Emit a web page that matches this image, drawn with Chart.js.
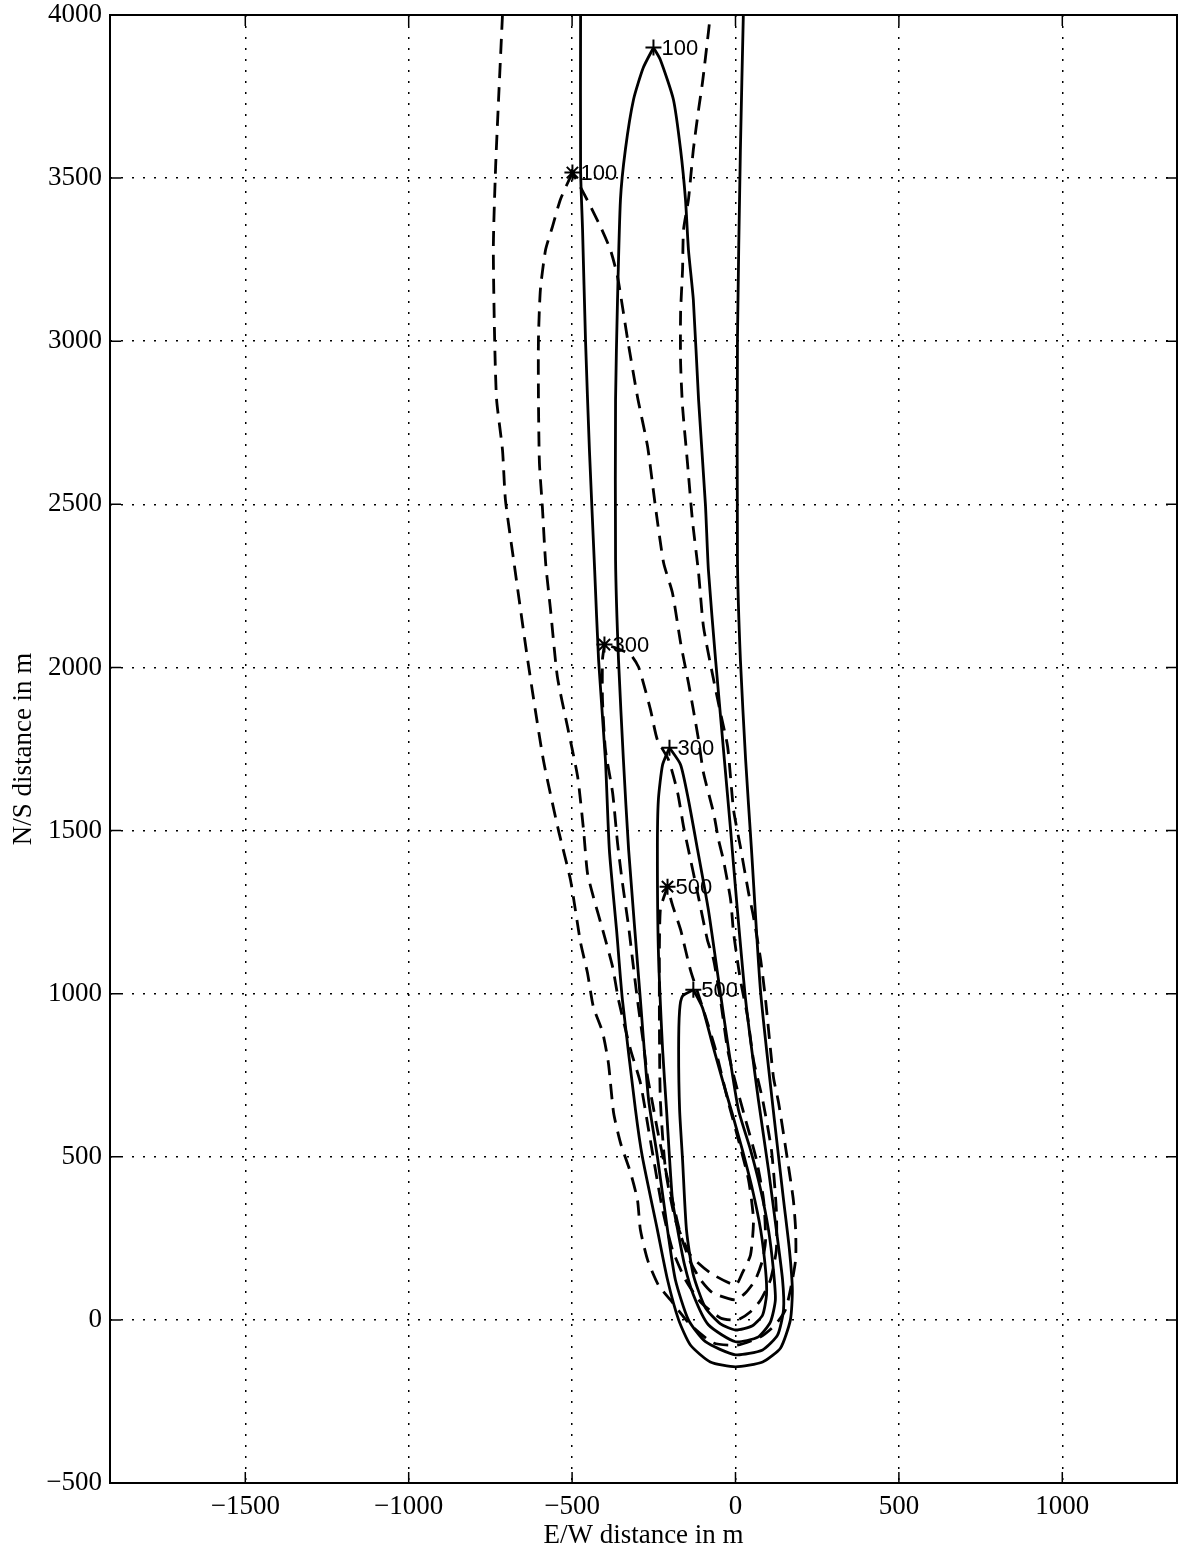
<!DOCTYPE html>
<html>
<head>
<meta charset="utf-8">
<title>Plume concentration contours</title>
<script src="https://cdn.jsdelivr.net/npm/chart.js@4/dist/chart.umd.min.js"></script>
<style>
  body { margin: 0; background: #fff; }
</style>
</head>
<body>
<canvas id="plume" width="1180" height="1553"></canvas>
<script>
// axis ticks, metres
const ewTicks = [-1500, -1000, -500, 0, 500, 1000];
const nsTicks = [-500, 0, 500, 1000, 1500, 2000, 2500, 3000, 3500, 4000];

// contour levels and the point on each contour where the level is marked
const levels = [100, 300, 500];
const solidLabelPts = [[-251, 3900], [-202, 1754], [-129, 1012]];
const dashedLabelPts = [[-499, 3517], [-401, 2070], [-208, 1328]];

// solid contours, [E/W, N/S] in m
const solidOuter = [
  [-474, 4000], [-474, 3526], [-468, 3342], [-459, 3005], [-447, 2667], [-431, 2300],
  [-419, 2024], [-398, 1717], [-386, 1441], [-364, 1196], [-346, 981], [-306, 644],
  [-285, 500], [-239, 276], [-208, 123], [-174, 0], [-138, -77], [-77, -129], [0, -144],
  [83, -129], [138, -86], [168, 0], [174, 92], [165, 215], [147, 368], [119, 613],
  [77, 1003], [49, 1441], [31, 1717], [15, 2024], [6, 2330], [6, 3005], [15, 3587], [24, 4000]
];
const solid100 = [
  [-251, 3900], [-282, 3839], [-312, 3741], [-337, 3587], [-352, 3434], [-361, 3127],
  [-367, 2821], [-367, 2330], [-358, 2024], [-343, 1717], [-327, 1441], [-291, 981],
  [-266, 675], [-239, 500], [-208, 276], [-184, 123], [-144, 0], [-92, -67], [0, -107],
  [83, -92], [129, -46], [147, 31], [144, 123], [125, 276], [101, 460], [70, 675],
  [31, 981], [3, 1288], [-15, 1502], [-34, 1717], [-61, 2024], [-83, 2300], [-92, 2499],
  [-113, 2821], [-129, 3127], [-144, 3281], [-153, 3434], [-168, 3587], [-190, 3741],
  [-230, 3863], [-251, 3900]
];
const solid300 = [
  [-202, 1754], [-223, 1702], [-236, 1594], [-239, 1441], [-236, 1134], [-223, 828],
  [-211, 644], [-193, 368], [-177, 276], [-156, 169], [-129, 77], [-83, -15], [0, -67],
  [70, -52], [107, -6], [122, 61], [116, 153], [101, 276], [77, 399], [46, 521], [9, 644],
  [-21, 828], [-52, 1042], [-83, 1257], [-116, 1441], [-144, 1594], [-168, 1702], [-202, 1754]
];
const solid500 = [
  [-129, 1012], [-162, 993], [-171, 950], [-174, 828], [-171, 644], [-162, 491],
  [-150, 276], [-129, 138], [-92, 37], [-46, -12], [0, -31], [52, -18], [83, 15],
  [95, 77], [92, 153], [77, 276], [52, 399], [21, 521], [-9, 629], [-40, 736],
  [-70, 843], [-101, 957], [-129, 1012]
];

// dashed contours, [E/W, N/S] in m
const dashedOuter = [
  [-713, 4000], [-725, 3741], [-734, 3535], [-741, 3290], [-737, 3005], [-731, 2821],
  [-713, 2667], [-704, 2514], [-679, 2330], [-636, 2024], [-588, 1717], [-542, 1502],
  [-505, 1349], [-474, 1156], [-453, 1064], [-435, 960], [-407, 883], [-389, 788],
  [-373, 635], [-352, 543], [-321, 451], [-300, 368], [-291, 276], [-269, 184],
  [-236, 107], [-199, 61], [-138, -15], [-67, -71], [6, -77], [77, -52], [122, -15],
  [153, 31], [168, 92], [184, 184], [184, 276], [177, 368], [159, 491], [132, 665],
  [116, 745], [92, 981], [77, 1104], [55, 1236], [40, 1309], [15, 1450], [-6, 1564],
  [-24, 1757], [-46, 1861], [-67, 1962], [-98, 2125], [-113, 2290], [-132, 2453],
  [-147, 2628], [-162, 2799], [-168, 2934], [-168, 3087], [-162, 3219], [-159, 3342],
  [-144, 3434], [-129, 3587], [-113, 3710], [-101, 3793], [-83, 3946], [-77, 4000]
];
const dashed100 = [
  [-499, 3517], [-536, 3434], [-560, 3351], [-581, 3281], [-597, 3158], [-603, 3005],
  [-603, 2830], [-600, 2628], [-591, 2493], [-581, 2321], [-566, 2177], [-545, 1971],
  [-514, 1818], [-483, 1665], [-465, 1502], [-453, 1370], [-435, 1297], [-404, 1187],
  [-376, 1082], [-358, 981], [-321, 828], [-291, 727], [-266, 583], [-245, 460],
  [-223, 337], [-193, 215], [-153, 123], [-107, 55], [-46, 6], [6, 0], [46, 25],
  [77, 61], [107, 123], [125, 215], [125, 337], [110, 521], [83, 675], [55, 797],
  [37, 929], [15, 1042], [-6, 1187], [-15, 1288], [-37, 1410], [-52, 1472], [-67, 1554],
  [-98, 1677], [-113, 1778], [-129, 1870], [-144, 1953], [-168, 2076], [-193, 2229],
  [-220, 2321], [-245, 2493], [-269, 2677], [-300, 2830], [-330, 3005], [-361, 3198],
  [-383, 3281], [-413, 3351], [-465, 3455], [-499, 3517]
];
const dashed300 = [
  [-401, 2070], [-407, 2024], [-407, 1901], [-398, 1748], [-376, 1616], [-361, 1462],
  [-346, 1340], [-327, 1205], [-315, 1104], [-300, 981], [-282, 849], [-269, 745],
  [-254, 665], [-239, 583], [-214, 460], [-193, 368], [-168, 261], [-138, 178],
  [-107, 123], [-70, 83], [0, 61], [31, 83], [61, 123], [83, 184], [92, 245], [86, 368],
  [64, 491], [31, 613], [0, 727], [-24, 828], [-46, 981], [-67, 1104], [-86, 1165],
  [-116, 1309], [-144, 1441], [-159, 1512], [-177, 1616], [-205, 1717], [-239, 1778],
  [-260, 1870], [-282, 1953], [-297, 2002], [-321, 2039], [-367, 2060], [-401, 2070]
];
const dashed500 = [
  [-208, 1328], [-230, 1257], [-233, 981], [-230, 675], [-214, 460], [-184, 307],
  [-138, 199], [-77, 144], [0, 107], [21, 144], [46, 199], [55, 307], [40, 429],
  [9, 552], [-24, 675], [-61, 828], [-98, 950], [-138, 1073], [-168, 1196], [-193, 1272],
  [-208, 1328]
];

const toXY = pts => pts.map(([x, y]) => ({ x, y }));

function contour(pts, dashed) {
  return {
    data: toXY(pts),
    showLine: true,
    borderColor: '#000',
    borderWidth: 2.8,
    borderDash: dashed ? [15, 9] : [],
    pointRadius: 0,
    tension: 0.2,
    fill: false
  };
}

function markers(pts, style) {
  return {
    data: toXY(pts),
    showLine: false,
    pointStyle: style,
    pointRadius: 8,
    pointBorderColor: '#000',
    pointBorderWidth: 2,
    pointBackgroundColor: '#000'
  };
}

const serif = { family: '"Liberation Serif", "Times New Roman", serif', size: 27 };
const signed = v => (v < 0 ? '\u2212' + Math.abs(v) : String(v));

// box, inward tick marks and the contour level numbers
const frameAndLabels = {
  id: 'frameAndLabels',
  afterDatasetsDraw(chart) {
    const { ctx, chartArea: a, scales: { x, y } } = chart;
    ctx.save();
    ctx.strokeStyle = '#000';
    ctx.lineWidth = 2;
    ctx.strokeRect(a.left, a.top, a.right - a.left, a.bottom - a.top);

    ctx.lineWidth = 1.5;
    ctx.beginPath();
    ewTicks.forEach(v => {
      const px = x.getPixelForValue(v);
      ctx.moveTo(px, a.bottom); ctx.lineTo(px, a.bottom - 11);
      ctx.moveTo(px, a.top); ctx.lineTo(px, a.top + 11);
    });
    nsTicks.forEach(v => {
      const py = y.getPixelForValue(v);
      ctx.moveTo(a.left, py); ctx.lineTo(a.left + 11, py);
      ctx.moveTo(a.right, py); ctx.lineTo(a.right - 11, py);
    });
    ctx.stroke();

    ctx.font = '22px "Liberation Sans", Arial, sans-serif';
    ctx.fillStyle = '#000';
    ctx.textBaseline = 'middle';
    [8, 9].forEach(i => {
      chart.getDatasetMeta(i).data.forEach((pt, j) => {
        ctx.fillText(String(levels[j]), pt.x + 8, pt.y + 1);
      });
    });
    ctx.restore();
  }
};

new Chart(document.getElementById('plume'), {
  type: 'scatter',
  data: {
    datasets: [
      contour(solidOuter, false),
      contour(solid100, false),
      contour(solid300, false),
      contour(solid500, false),
      contour(dashedOuter, true),
      contour(dashed100, true),
      contour(dashed300, true),
      contour(dashed500, true),
      markers(solidLabelPts, 'cross'),
      markers(dashedLabelPts, 'star')
    ]
  },
  options: {
    responsive: false,
    animation: false,
    layout: { autoPadding: false, padding: { top: 15, right: 3, left: 0, bottom: 0 } },
    plugins: {
      legend: { display: false },
      tooltip: { enabled: false }
    },
    scales: {
      x: {
        type: 'linear',
        min: -1914,
        max: 1351,
        afterBuildTicks: s => { s.ticks = ewTicks.map(value => ({ value })); },
        afterFit: s => { s.height = 70; s.paddingLeft = 0; s.paddingRight = 0; },
        grid: { color: '#000', lineWidth: 1.5, drawTicks: false },
        border: { display: false, dash: [2, 9] },
        ticks: { font: serif, color: '#000', padding: 8, maxRotation: 0, autoSkip: false, callback: signed },
        title: { display: true, text: 'E/W distance in m', font: serif, color: '#000', padding: { top: 0, bottom: 1 } }
      },
      y: {
        type: 'linear',
        min: -500,
        max: 4000,
        afterBuildTicks: s => { s.ticks = nsTicks.map(value => ({ value })); },
        afterFit: s => { s.width = 110; s.paddingTop = 0; s.paddingBottom = 0; },
        grid: { color: '#000', lineWidth: 1.5, drawTicks: false },
        border: { display: false, dash: [2, 9] },
        ticks: { font: serif, color: '#000', padding: 8, autoSkip: false, callback: signed },
        title: { display: true, text: 'N/S distance in m', font: serif, color: '#000', padding: { top: 8, bottom: 0 } }
      }
    }
  },
  plugins: [frameAndLabels]
});
</script>
</body>
</html>
